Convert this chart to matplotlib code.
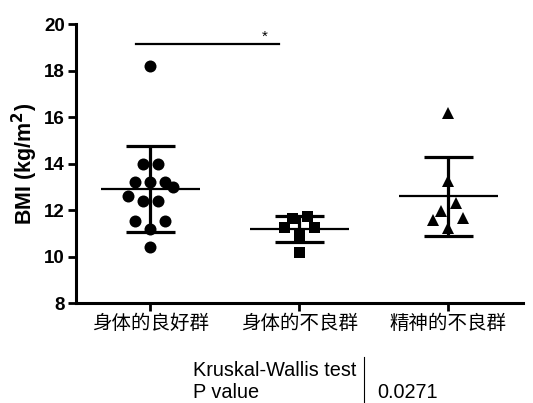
import numpy as np
import matplotlib
matplotlib.use("Agg")
import matplotlib.pyplot as plt
from matplotlib.lines import Line2D

plt.rcParams['font.family'] = ['Liberation Sans', 'Noto Sans CJK SC', 'DejaVu Sans']

# 数据
groups = ["身体的良好群", "身体的不良群", "精神的不良群"]
g1 = [18.2, 14.0, 14.0, 13.2, 13.2, 13.2, 13.0, 12.6, 12.4, 12.4, 11.55, 11.55, 11.2, 10.4]
g2 = [11.75, 11.66, 11.3, 11.3, 10.94, 10.19]
g3 = [16.17, 13.26, 12.3, 11.98, 11.68, 11.58, 11.22]
data = [g1, g2, g3]
markers = ["o", "s", "^"]
yticks = [8, 10, 12, 14, 16, 18, 20]
p_text = "0.0271"

fig = plt.figure(figsize=(5.33, 4.03), dpi=100)
ax = fig.add_axes([0.1426, 0.2474, 0.8384, 0.6923])
ax.set_xlim(-0.5, 2.5)
ax.set_ylim(8, 20)


def swarm(vals, band=0.65, step_px=15):
    # GraphPad-like scatter: bands of close values, laid out side by side
    px_per_x = ax.transData.transform((1, 0))[0] - ax.transData.transform((0, 0))[0]
    order = np.argsort(vals, kind="stable")
    offs = np.zeros(len(vals))
    i = 0
    while i < len(order):
        start = vals[order[i]]
        j = i
        while j < len(order) and vals[order[j]] - start <= band:
            j += 1
        idx = order[i:j]
        n = len(idx)
        slots = [(k - (n - 1) / 2) for k in range(n)]
        # fill from the middle outwards, left first
        slots = sorted(slots, key=lambda s: (abs(s), s))
        for k, p in zip(idx, slots):
            offs[k] = p * step_px / px_per_x
        i = j
    return offs


msize = [12, 11, 12]
for i, vals in enumerate(data):
    vals = np.array(vals)
    offs = swarm(vals)
    ax.plot(i + offs, vals, linestyle="none", marker=markers[i], color="black",
            markersize=msize[i] * 0.72, markeredgewidth=0, zorder=3)
    m = vals.mean()
    sd = vals.std(ddof=1)
    ax.hlines(m, i - 0.33, i + 0.33, color="black", lw=1.6, zorder=4)
    ax.vlines(i, m - sd, m + sd, color="black", lw=2.3, zorder=4)
    ax.hlines([m - sd, m + sd], i - 0.165, i + 0.165, color="black", lw=2.3, zorder=4)

# 显著性
ax.plot([-0.1, 0.86], [19.15, 19.15], color="black", lw=1.6)
ax.text(0.765, 19.18, "*", ha="center", va="bottom", fontsize=11)

ax.set_xticks(range(3))
ax.set_xticklabels(groups, fontsize=14)
ax.set_yticks(yticks)
ax.set_yticklabels([str(t) for t in yticks], fontsize=13.5, fontweight="bold")
ax.set_ylabel("BMI (kg/m$^\\mathbf{2}$)", fontsize=15.5, fontweight="bold", labelpad=3)
for s in ["top", "right"]:
    ax.spines[s].set_visible(False)
for s in ["left", "bottom"]:
    ax.spines[s].set_linewidth(2.2)
ax.tick_params(axis="both", direction="out", length=6, width=2, pad=2)

# 统计表
fig.text(193 / 533, 1 - 371 / 403, "Kruskal-Wallis test", fontsize=14.3, va="center", ha="left")
fig.text(193 / 533, 1 - 392 / 403, "P value", fontsize=14.3, va="center", ha="left")
fig.text(377 / 533, 1 - 392 / 403, p_text, fontsize=14.3, va="center", ha="left")
fig.add_artist(Line2D([364 / 533, 364 / 533], [1 - 357 / 403, 0], color="black", lw=0.8))

fig.savefig("out.png", dpi=100)
